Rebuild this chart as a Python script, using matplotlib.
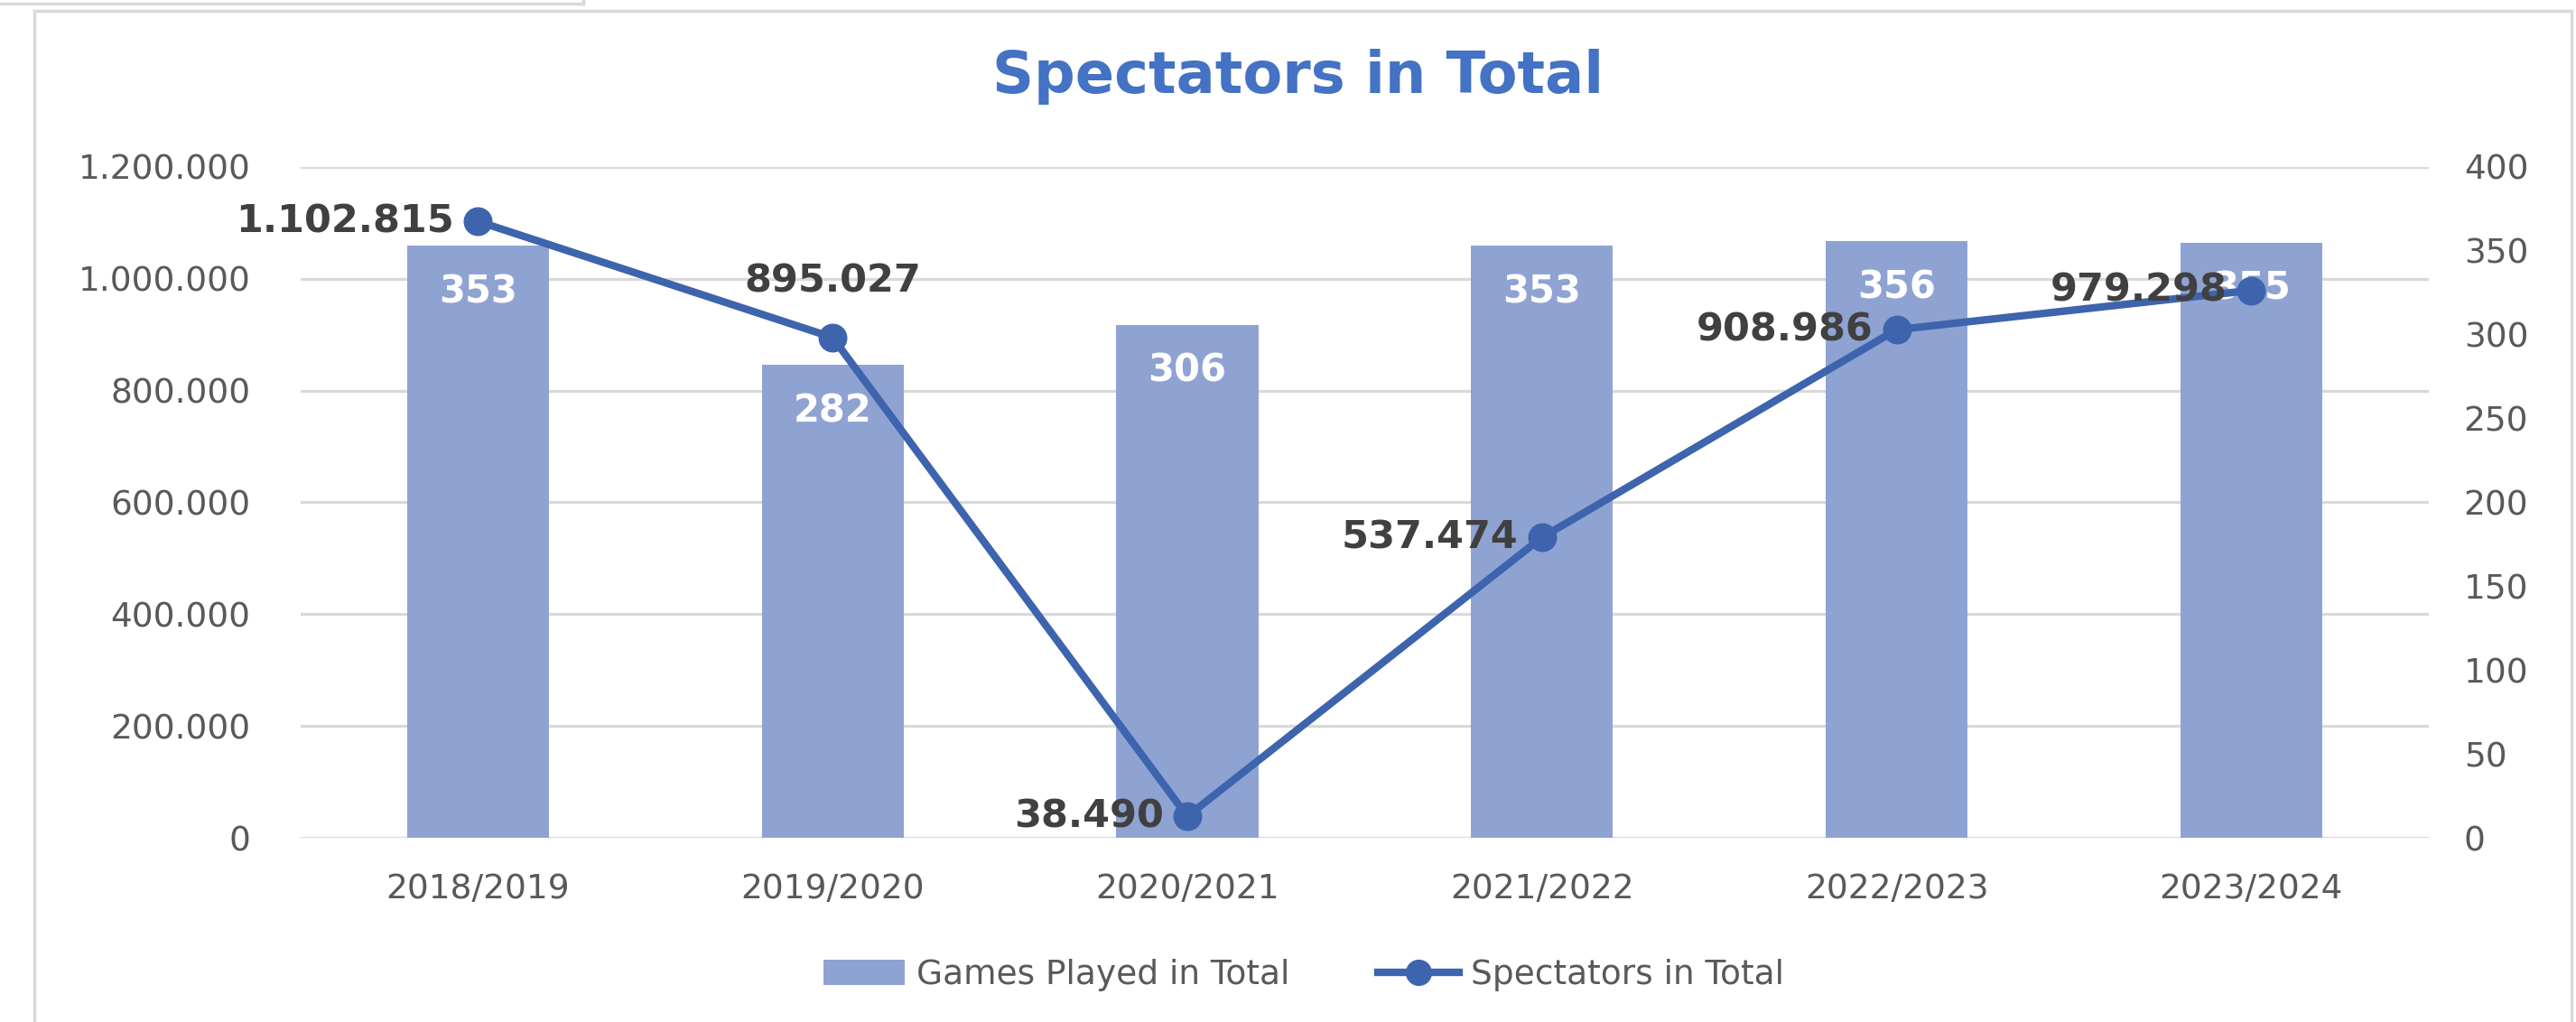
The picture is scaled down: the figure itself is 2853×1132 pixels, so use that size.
import matplotlib.pyplot as plt
from matplotlib.lines import Line2D
from matplotlib.patches import Patch

seasons = ['2018/2019', '2019/2020', '2020/2021', '2021/2022', '2022/2023', '2023/2024']
games = [353, 282, 306, 353, 356, 355]
spectators = [1102815, 895027, 38490, 537474, 908986, 979298]
spec_labels = ['1.102.815', '895.027', '38.490', '537.474', '908.986', '979.298']
left_ticks = [0, 200000, 400000, 600000, 800000, 1000000, 1200000]
left_tick_labels = ['0', '200.000', '400.000', '600.000', '800.000', '1.000.000', '1.200.000']
right_ticks = [0, 50, 100, 150, 200, 250, 300, 350, 400]

bar_color = '#8FA3D3'
line_color = '#3D64AD'
grid_color = '#D9D9D9'
tick_color = '#595959'
label_color = '#404040'

fig = plt.figure(figsize=(28.53, 11.32), dpi=100)
x = list(range(len(seasons)))

# base axes: left scale + gridlines (bottom layer)
ax = fig.add_axes([0.1167, 0.1802, 0.9428 - 0.1167, 0.8366 - 0.1802])
ax.set_xlim(-0.5, 5.5)
ax.set_ylim(0, 1200000)
ax.set_yticks(left_ticks)
ax.set_yticklabels(left_tick_labels)
ax.set_xticks(x)
ax.set_xticklabels(seasons)
ax.grid(axis='y', color=grid_color, linewidth=2.3)
ax.set_axisbelow(True)
ax.tick_params(axis='both', length=0, labelsize=27, labelcolor=tick_color)
ax.tick_params(axis='y', pad=40)
ax.tick_params(axis='x', pad=28)
for s in ax.spines.values():
    s.set_visible(False)

# bars on the secondary axis
ax2 = ax.twinx()
ax2.bar(x, games, width=0.4, color=bar_color, zorder=2)
ax2.set_ylim(0, 400)
ax2.set_yticks(right_ticks)
ax2.tick_params(axis='y', length=0, labelsize=27, labelcolor=tick_color, pad=28)
for s in ax2.spines.values():
    s.set_visible(False)
for xi, g in zip(x, games):
    ax2.annotate(str(g), (xi, g), xytext=(0, -37), textcoords='offset points',
                 ha='center', va='center', color='white', fontsize=30, fontweight='bold')

# line on the primary scale, drawn above the bars
ax3 = ax.twinx()
ax3.set_ylim(0, 1200000)
ax3.set_yticks([])
for s in ax3.spines.values():
    s.set_visible(False)
ax3.plot(x, spectators, color=line_color, linewidth=6, marker='o', markersize=22)
for i, (xi, v, lab) in enumerate(zip(x, spectators, spec_labels)):
    if i == 1:
        ax3.annotate(lab, (xi, v), xytext=(0, 45), textcoords='offset points',
                     ha='center', va='center', color=label_color, fontsize=31, fontweight='bold')
    else:
        ax3.annotate(lab, (xi, v), xytext=(-19, 0), textcoords='offset points',
                     ha='right', va='center', color=label_color, fontsize=31, fontweight='bold')

fig.text(0.504, 0.925, 'Spectators in Total', ha='center', va='center',
         fontsize=46, fontweight='bold', color='#4472C4')

handles = [Patch(facecolor=bar_color, edgecolor='none'),
           Line2D([0], [0], color=line_color, linewidth=6, marker='o', markersize=20)]
fig.legend(handles, ['Games Played in Total', 'Spectators in Total'], loc='center',
           bbox_to_anchor=(0.506, 0.046), ncol=2, frameon=False, fontsize=27,
           labelcolor=tick_color, handlelength=2.4, handleheight=0.75,
           handletextpad=0.35, columnspacing=2.6)

# chart frame and stray cell border at the top left
W, H = 2853, 1132
fig.add_artist(Line2D([38 / W, 38 / W], [0, 1 - 12 / H], color=grid_color, linewidth=2.5))
fig.add_artist(Line2D([38 / W, 2848 / W], [1 - 12 / H, 1 - 12 / H], color=grid_color, linewidth=2.5))
fig.add_artist(Line2D([2848 / W, 2848 / W], [0, 1 - 12 / H], color=grid_color, linewidth=2.5))
fig.add_artist(Line2D([0, 646 / W], [1 - 4 / H, 1 - 4 / H], color=grid_color, linewidth=2.5))
fig.add_artist(Line2D([646 / W, 646 / W], [1 - 4 / H, 1], color=grid_color, linewidth=2.5))

fig.savefig('out.png', dpi=100)
